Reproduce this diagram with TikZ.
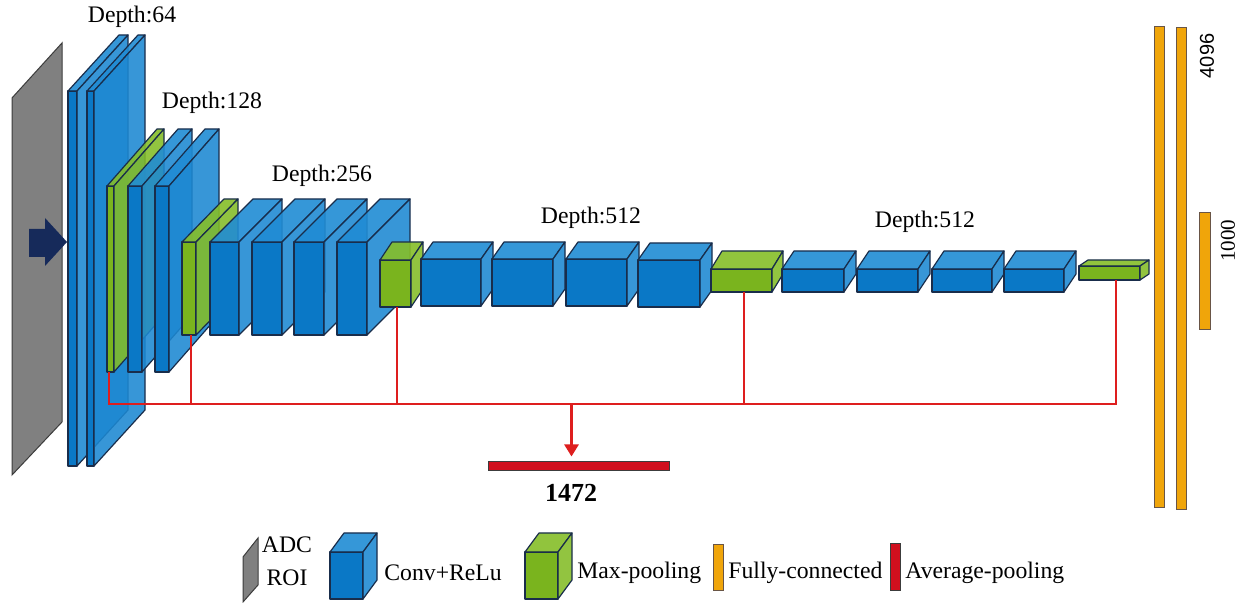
\documentclass[tikz,border=0pt]{standalone}
\usepackage{fontspec}
\setmainfont{Liberation Serif}
\newfontfamily\sansfnt{Liberation Sans}
\usetikzlibrary{arrows.meta}
\definecolor{bluefront}{RGB}{10,120,198}
\definecolor{bluetop}{RGB}{32,140,212}
\definecolor{blueside}{RGB}{28,136,210}
\definecolor{greenfront}{RGB}{122,180,30}
\definecolor{greentop}{RGB}{134,190,40}
\definecolor{greenside}{RGB}{132,188,38}
\definecolor{edgecol}{RGB}{25,45,75}
\definecolor{planegray}{RGB}{128,128,128}
\definecolor{planeedge}{RGB}{60,60,60}
\definecolor{navyarrow}{RGB}{22,42,90}
\definecolor{fcorange}{RGB}{240,165,10}
\definecolor{fcedge}{RGB}{105,85,70}
\definecolor{redline}{RGB}{222,30,30}
\definecolor{avgred}{RGB}{208,16,30}
% #1 x, #2 y (front top-left), #3 w, #4 h, #5 dx, #6 dy, #7 colour prefix, #8 name
\newcommand\layerbox[8]{%
  \draw[boxedge, fill=#7front] (#1,#2) rectangle ++(#3,#4);
  \draw[boxedge, fill=#7top, fill opacity=0.9]
    (#1,#2) -- (#1+#5,#2+#6) -- (#1+#3+#5,#2+#6) -- (#1+#3,#2) -- cycle;
  \draw[boxedge, fill=#7side, fill opacity=0.88]
    (#1+#3,#2) -- (#1+#3+#5,#2+#6) -- (#1+#3+#5,#2+#4+#6) -- (#1+#3,#2+#4) -- cycle;
  \coordinate (#8) at (#1+#3/2,#2+#4);
}
\tikzset{
  boxedge/.style={draw=edgecol, line width=0.6pt, line join=round},
  lbl/.style={inner sep=0pt, font=\fontsize{11.85}{14}\selectfont},
  redconn/.style={draw=redline, line width=1.3pt},
  fcbar/.style={draw=fcedge, fill=fcorange, line width=0.5pt},
  avgbar/.style={draw=planeedge, fill=avgred, line width=0.5pt},
}
\begin{document}
\begin{tikzpicture}[x=0.5pt, y=-0.5pt]
\useasboundingbox (0,0) rectangle (1248,603);
\fill[white] (0,0) rectangle (1248,603);

% input plane
\draw[fill=planegray, draw=planeedge, line width=0.5pt] (12,98) -- (62,43) -- (62,422) -- (12,475) -- cycle;
\coordinate (plane) at (37,260);
% input arrow
\fill[navyarrow] (29,229) -- (45,229) -- (45,218) -- (67,242) -- (45,266) -- (45,257) -- (29,257) -- cycle;

% Depth 64
\layerbox{68}{91}{9}{375}{51}{-56}{blue}{c64a}
\layerbox{87}{91}{7}{375}{51}{-56}{blue}{c64b}
% Depth 128
\layerbox{107}{186}{7}{186}{50}{-57}{green}{p1}
\layerbox{128}{186}{14}{186}{50}{-57}{blue}{c128a}
\layerbox{155}{186}{14}{186}{50}{-57}{blue}{c128b}
% Depth 256
\layerbox{182}{242}{14}{93}{42}{-43}{green}{p2}
\layerbox{210}{242}{29}{93}{43}{-43}{blue}{c256a}
\layerbox{252}{242}{30}{93}{43}{-43}{blue}{c256b}
\layerbox{294}{242}{30}{93}{43}{-43}{blue}{c256c}
\layerbox{337}{242}{30}{93}{43}{-43}{blue}{c256d}
% Depth 512 (a)
\layerbox{380}{260}{31}{47}{12}{-18}{green}{p3}
\layerbox{421}{259}{60}{47}{12}{-17}{blue}{c512a}
\layerbox{492}{259}{61}{47}{12}{-17}{blue}{c512b}
\layerbox{566}{259}{61}{47}{12}{-17}{blue}{c512c}
\layerbox{638}{260}{62}{47}{12}{-17}{blue}{c512d}
% Depth 512 (b)
\layerbox{711}{269}{61}{23}{11}{-18}{green}{p4}
\layerbox{782}{269}{62}{23}{12}{-18}{blue}{c512e}
\layerbox{857}{269}{61}{23}{12}{-18}{blue}{c512f}
\layerbox{932}{269}{60}{23}{12}{-18}{blue}{c512g}
\layerbox{1004}{269}{60}{23}{12}{-18}{blue}{c512h}
\layerbox{1079}{266}{61}{14}{9}{-6}{green}{p5}

% depth labels
\node[lbl] (d64) at (132,17) {Depth:64};
\node[lbl] (d128) at (212,103) {Depth:128};
\node[lbl] (d256) at (322,176) {Depth:256};
\node[lbl] (d512a) at (591,218) {Depth:512};
\node[lbl] (d512b) at (925,222) {Depth:512};

% fully connected bars
\node[fcbar, inner sep=0pt, minimum width=5pt, minimum height=240.5pt] (fc1) at (1159,267.5) {};
\node[fcbar, inner sep=0pt, minimum width=5pt, minimum height=241pt] (fc2) at (1181,269) {};
\node[fcbar, inner sep=0pt, minimum width=5.5pt, minimum height=58.5pt] (fc3) at (1204.5,271.5) {};
\node[inner sep=0pt, rotate=90, font=\sansfnt\fontsize{10}{12}\selectfont] (l4096) at (1207,56) {4096};
\node[inner sep=0pt, rotate=90, font=\fontsize{10.5}{12}\selectfont] (l1000) at (1228,241) {1000};

% average pooling
\node[avgbar, inner sep=0pt, minimum width=90.5pt, minimum height=4.5pt] (avg) at (578.5,466.5) {};
\node[inner sep=0pt, font=\bfseries\fontsize{13}{15}\selectfont] (l1472) at (571,493) {1472};

% red connectors
\coordinate (bus) at (0,404);
\coordinate (t1) at (109,372);
\coordinate (t2) at (191,335);
\coordinate (t3) at (397,307);
\coordinate (t4) at (744,292);
\coordinate (t5) at (1116,280);
\coordinate (tap) at (571.5,404);
\draw[redconn] (t1) -- (t1 |- bus) -- (t5 |- bus) -- (t5);
\draw[redconn] (t2) -- (t2 |- bus);
\draw[redconn] (t3) -- (t3 |- bus);
\draw[redconn] (t4) -- (t4 |- bus);
\draw[redconn, -{Triangle[width=7pt,length=6pt]}, shorten >=2.5pt] (tap) -- (tap |- avg.north);

% legend
\draw[fill=planegray, draw=planeedge, line width=0.5pt] (243,557) -- (258,538) -- (258,585) -- (243,602) -- cycle;
\node[lbl] (lgadc) at (287,545) {ADC};
\node[lbl] (lgroi) at (287,578) {ROI};
\layerbox{330}{552}{33}{47}{14}{-19}{blue}{lgconv}
\node[lbl, anchor=west] (lgconvt) at (384,573) {Conv+ReLu};
\layerbox{525}{552}{33}{47}{14}{-19}{green}{lgpool}
\node[lbl, anchor=west] (lgpoolt) at (577,573) {Max-pooling};
\node[fcbar, inner sep=0pt, minimum width=5pt, minimum height=23pt] (lgfc) at (718,568) {};
\node[lbl, anchor=west] (lgfct) at (728,573) {Fully-connected};
\node[avgbar, inner sep=0pt, minimum width=5pt, minimum height=23.5pt] (lgavg) at (895,567.5) {};
\node[lbl, anchor=west] (lgavgt) at (905,573) {Average-pooling};
\end{tikzpicture}
\end{document}
